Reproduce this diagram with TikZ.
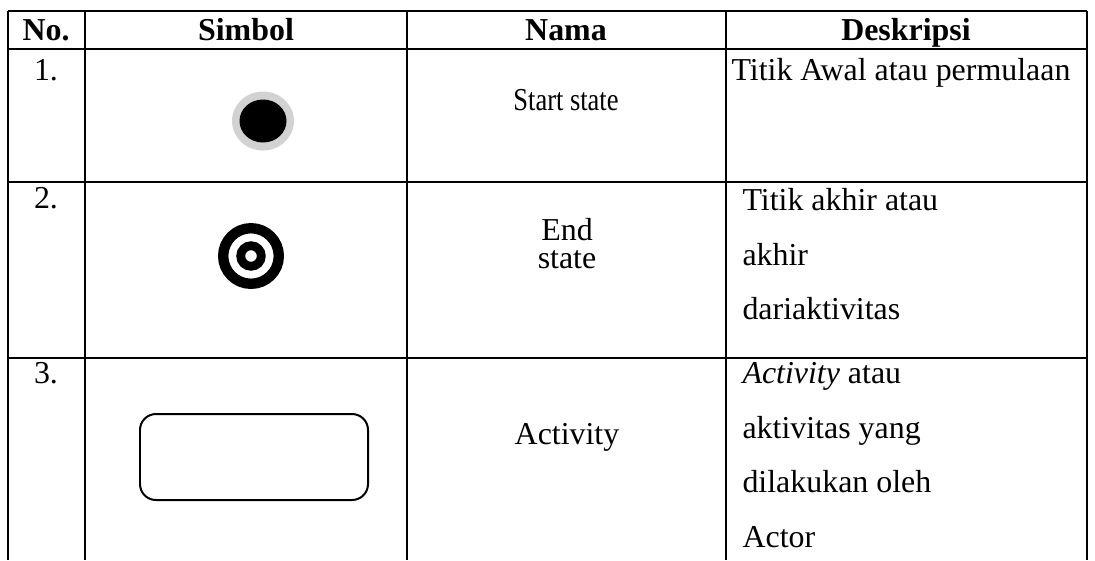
\documentclass[tikz,border=0pt]{standalone}
\usepackage{fontspec}
\setmainfont{Liberation Serif}
\begin{document}
\begin{tikzpicture}[x=0.376pt,y=-0.376pt,
	txt/.style={inner sep=0pt,anchor=base,font=\fontsize{12}{14}\selectfont},
	head/.style={txt,font=\fontsize{12}{14}\selectfont\bfseries},
	desc/.style={txt,anchor=base west},
	rule/.style={line width=1pt}]
		\useasboundingbox (0,0) rectangle (1095,560);
		% grid of the table
		\draw [rule](8,11)--(1087,11);
		\draw [rule](8,49)--(1087,49);
		\draw [rule](8,182)--(1087,182);
		\draw [rule](8,358)--(1087,358);
		\foreach \x in {8,85,407,726,1087}
			\draw [rule](\x,11)--(\x,560);
		% header
		\node [head](hno)at (46,40) {No.};
		\node [head](hsim)at (246,40) {Simbol};
		\node [head](hnam)at (566,40) {Nama};
		\node [head](hdes)at (906,40) {Deskripsi};
		% row 1
		\node [txt](n1)at (46,80) {1.};
		\fill [gray!35](263,121)circle[x radius=31,y radius=29.5];
		\fill (263,121)circle[x radius=23.5,y radius=21.5];
		\node [txt](nm1)at (566,110) {\scalebox{0.83}[1]{Start state}};
		\node [desc](d11)at (731,80) {Titik Awal atau permulaan};
		% row 2
		\node [txt](n2)at (46,208) {2.};
		\draw [line width=3.9pt](251,256)circle[radius=27.8];
		\draw [line width=3.3pt](251,256)circle[radius=10.3];
		\node [txt,align=center,font=\fontsize{12}{10.5}\selectfont](nm2)at (567,268) {End\\state};
		\node [desc](d21)at (742,210) {Titik akhir atau};
		\node [desc](d22)at (742,265) {akhir};
		\node [desc](d23)at (742,319) {dariaktivitas};
		% row 3
		\node [txt](n3)at (46,383) {3.};
		\draw [line width=0.75pt,rounded corners=6pt](140,414)rectangle(368,500);
		\node [txt](nm3)at (567,444) {Activity};
		\node [desc](d31)at (742,383) {\textit{Activity} atau};
		\node [desc](d32)at (742,438) {aktivitas yang};
		\node [desc](d33)at (742,492) {dilakukan oleh};
		\node [desc](d34)at (742,547) {Actor};
	\end{tikzpicture}
\end{document}
